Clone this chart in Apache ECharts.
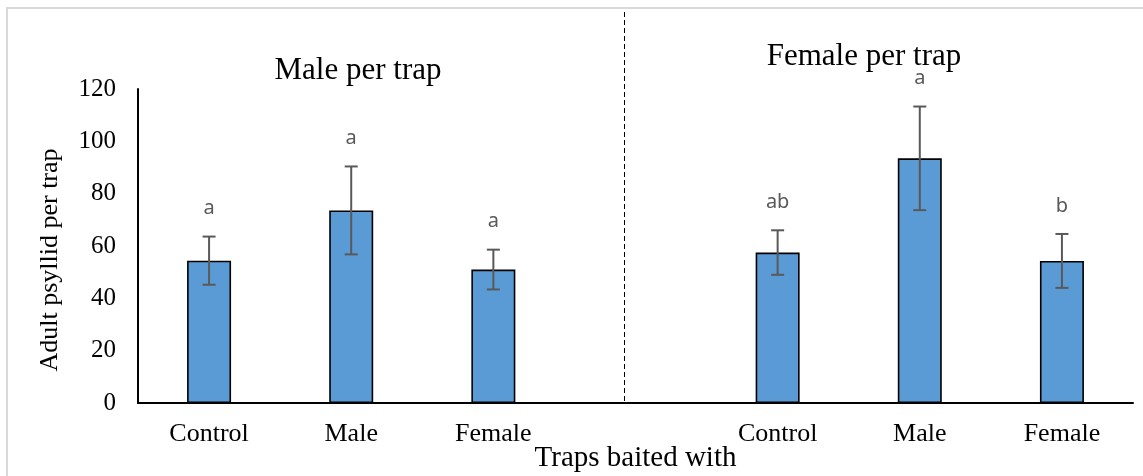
<!DOCTYPE html>
<html>
<head>
<meta charset="utf-8">
<script src="https://cdn.jsdelivr.net/npm/echarts@6/dist/echarts.min.js"></script>
<style>
  html, body { margin: 0; padding: 0; background: #ffffff; }
  #chart { width: 1143px; height: 476px; }
</style>
</head>
<body>
<div id="chart"></div>
<script>
// Trap categories; the blank slot separates the two panels
const categories = ['Control', 'Male', 'Female', '', 'Control', 'Male', 'Female'];

// Males caught per trap (mean, standard error, significance letter)
const maleMeans = [54.4, 73.6, 51.0];
const maleErr = [9.2, 16.8, 7.6];
const maleLetters = ['a', 'a', 'a'];

// Females caught per trap
const femaleMeans = [57.5, 93.5, 54.3];
const femaleErr = [8.5, 19.8, 10.3];
const femaleLetters = ['ab', 'a', 'b'];

// Value axis ticks
const yTicks = [0, 20, 40, 60, 80, 100, 120];

const panelTitles = ['Male per trap', 'Female per trap'];
const yAxisTitle = 'Adult psyllid per trap';
const xAxisTitle = 'Traps baited with';

// Position of the dashed divider, in category units
const dividerAt = 2.92;

const serif = '"Liberation Serif", "Times New Roman", serif';

const barData = [...maleMeans, '-', ...femaleMeans];
const errData = [];
maleMeans.forEach((m, i) => errData.push([i, m, maleErr[i], maleLetters[i]]));
femaleMeans.forEach((m, i) => errData.push([i + 4, m, femaleErr[i], femaleLetters[i]]));

const chart = echarts.init(document.getElementById('chart'), null, { renderer: 'canvas' });

const option = {
  animation: false,
  backgroundColor: '#ffffff',
  grid: { left: 138, right: 10, top: 89, bottom: 73, containLabel: false, outerBoundsMode: 'none' },
  xAxis: [{
    type: 'category',
    data: categories,
    axisLine: { show: true, lineStyle: { color: '#000', width: 2 } },
    axisTick: { show: false },
    axisLabel: { fontFamily: serif, fontSize: 26, color: '#000', margin: 18 },
    name: xAxisTitle,
    nameLocation: 'middle',
    nameGap: 41,
    nameMoveOverlap: false,
    nameTextStyle: { fontFamily: serif, fontSize: 29, color: '#000' }
  }, {
    // helper axis in category units, used to place the divider
    type: 'value',
    min: -0.5,
    max: 6.5,
    show: false
  }],
  yAxis: {
    type: 'value',
    min: yTicks[0],
    max: yTicks[yTicks.length - 1],
    interval: yTicks[1] - yTicks[0],
    axisLine: { show: true, onZero: false, lineStyle: { color: '#000', width: 2 } },
    axisTick: { show: false },
    splitLine: { show: false },
    axisLabel: { fontFamily: serif, fontSize: 25, color: '#000', margin: 22 }
  },
  series: [{
    type: 'bar',
    data: barData,
    barWidth: 44,
    itemStyle: { color: '#5B9BD5', borderColor: '#000', borderWidth: 1.6 },
    z: 2
  }, {
    type: 'custom',
    data: errData,
    encode: { x: 0, y: 1 },
    z: 3,
    renderItem: function (params, api) {
      const idx = api.value(0);
      const mean = api.value(1);
      const err = api.value(2);
      const letter = errData[params.dataIndex][3];
      const top = api.coord([idx, mean + err]);
      const bot = api.coord([idx, mean - err]);
      const x = top[0];
      const half = 6.5;
      const stroke = { stroke: '#595959', lineWidth: 2 };
      return {
        type: 'group',
        children: [
          { type: 'line', shape: { x1: x, y1: top[1], x2: x, y2: bot[1] }, style: stroke },
          { type: 'line', shape: { x1: x - half, y1: top[1], x2: x + half, y2: top[1] }, style: stroke },
          { type: 'line', shape: { x1: x - half, y1: bot[1], x2: x + half, y2: bot[1] }, style: stroke },
          {
            type: 'text',
            x: x,
            y: top[1] - 28,
            style: {
              text: letter,
              font: '20px "Noto Sans", "Open Sans", sans-serif',
              fill: '#595959',
              align: 'center',
              verticalAlign: 'middle'
            }
          }
        ]
      };
    }
  }],
  graphic: [{
    id: 'frame',
    type: 'rect',
    shape: { x: 7, y: 8, width: 1160, height: 490 },
    style: { fill: 'none', stroke: '#d9d9d9', lineWidth: 2 },
    silent: true
  }, {
    id: 'titleMale',
    type: 'text',
    x: 358,
    y: 71,
    style: { text: panelTitles[0], font: '31px ' + serif, fill: '#000', align: 'center', verticalAlign: 'middle' }
  }, {
    id: 'titleFemale',
    type: 'text',
    x: 864,
    y: 57,
    style: { text: panelTitles[1], font: '31px ' + serif, fill: '#000', align: 'center', verticalAlign: 'middle' }
  }, {
    id: 'yTitle',
    type: 'text',
    x: 50,
    y: 260,
    rotation: Math.PI / 2,
    style: { text: yAxisTitle, font: '26px ' + serif, fill: '#000', align: 'center', verticalAlign: 'middle' }
  }]
};

chart.setOption(option);

// Dashed divider between the two panels
const divX = Math.round(chart.convertToPixel({ xAxisIndex: 1 }, dividerAt)) + 0.5;
const zeroY = chart.convertToPixel({ yAxisIndex: 0 }, 0);
chart.setOption({
  graphic: [{
    id: 'divider',
    type: 'line',
    shape: { x1: divX, y1: 12, x2: divX, y2: zeroY - 2 },
    style: { stroke: '#000', lineWidth: 1, lineDash: [5, 3] },
    silent: true
  }]
});
</script>
</body>
</html>
